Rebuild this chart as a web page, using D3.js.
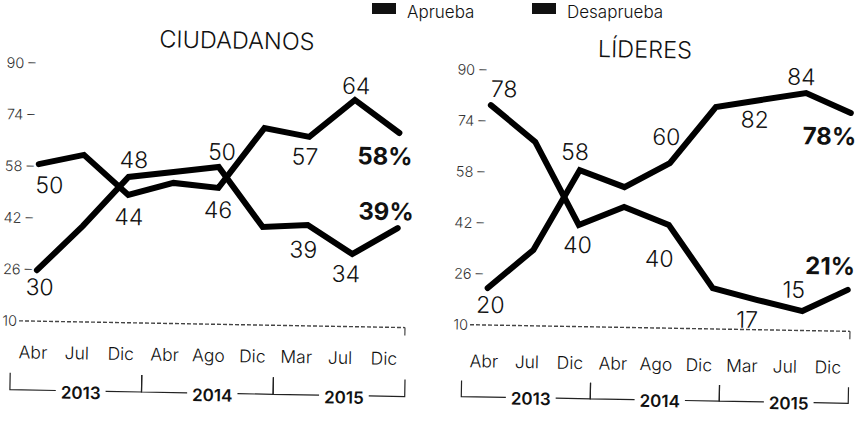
<!DOCTYPE html>
<html>
<head>
<meta charset="utf-8">
<script src="https://cdn.jsdelivr.net/npm/d3@7"></script>
<style>
  body { margin: 0; background: #fff; }
  svg { display: block; font-family: Inter, "Open Sans", sans-serif; }
</style>
</head>
<body>
<svg id="chart" width="859" height="423"></svg>
<script>

  // ---- data ----
  var months = ["Abr", "Jul", "Dic", "Abr", "Ago", "Dic", "Mar", "Jul", "Dic"];
  var years = ["2013", "2014", "2015"];
  var yTicks = [10, 26, 42, 58, 74, 90];
  var legendNames = ["Aprueba", "Desaprueba"];

  // CIUDADANOS: the two lines as drawn (they swap places twice)
  var ciudLineA = [25.8, 39.7, 55.2, 57.0, 58.8, 40.4, 41.3, 32.5, 40.8];
  var ciudLineB = [58.7, 61.8, 49.6, 53.6, 52.3, 71.1, 68.6, 80.3, 70.3];
  var ciudLabelsA = ["30", "", "48", "", "50", "", "39", "34", "39%"];
  var ciudLabelsB = ["50", "", "44", "", "46", "", "57", "64", "58%"];

  // LÍDERES
  var lidLineA = [21.6, 33.8, 59.1, 54.0, 61.8, 79.6, 82.1, 84.5, 78.5];
  var lidLineB = [79.0, 67.7, 41.9, 47.8, 42.4, 22.8, 19.3, 16.1, 23.0];
  var lidLabelsA = ["20", "", "58", "", "60", "", "82", "84", "78%"];
  var lidLabelsB = ["78", "", "40", "", "40", "", "17", "15", "21%"];

  // ---- layout ----
  var panels = [
    {
      title: "CIUDADANOS", titleX: 234, titleY: 52,
      xRange: [38, 398], monthRange: [35, 386], yRange: [328, 70],
      axisX: 33, baseX: [21, 407],
      monthY: 366, bracketTop: 380, bracketY: 397, yearY: 405,
      lines: [ciudLineA, ciudLineB],
      labels: [ciudLabelsA, ciudLabelsB],
      offsets: [
        [[3, 25], null, [5, -9], null, [3, -7], null, [-4, 33], [-6, 28], [-12, -8]],
        [[11, 29], null, [1, 30], null, [0, 30], null, [-4, 28], [1, -6], [-14, 32]]
      ]
    },
    {
      title: "LÍDERES", titleX: 642, titleY: 54,
      xRange: [489, 849], monthRange: [486, 830], yRange: [324, 69],
      axisX: 484, baseX: [472, 852],
      monthY: 367, bracketTop: 380, bracketY: 396, yearY: 403,
      lines: [lidLineA, lidLineB],
      labels: [lidLabelsA, lidLabelsB],
      offsets: [
        [[3, 25], null, [-5, -10], null, [-4, -18], null, [-6, 28], [-5, -8], [-21, 32]],
        [[13, -8], null, [-1, 28], null, [-9, 42], null, [-10, 28], [-9, -13], [-18, -15]]
      ]
    }
  ];

  var svg = d3.select("#chart");

  // legend (kept level and inside the top edge)
  var legend = svg.append("g").attr("class", "legend");
  var legendX = [372, 532];
  legendNames.forEach(function(name, i) {
    legend.append("rect")
      .attr("x", legendX[i]).attr("y", 3)
      .attr("width", 24).attr("height", 11)
      .attr("fill", "#111");
    legend.append("text")
      .attr("x", legendX[i] + 35).attr("y", 18)
      .attr("font-size", 17)
      .attr("font-weight", 300)
      .attr("fill", "#111")
      .text(name);
  });

  // the scanned page is tilted a little clockwise
  var root = svg.append("g").attr("transform", "rotate(1, 430, 212)");

  panels.forEach(function(p) {

    var g = root.append("g");

    var idx = d3.range(months.length);
    var x = d3.scalePoint().domain(idx).range(p.xRange);
    var xm = d3.scalePoint().domain(idx).range(p.monthRange);
    var y = d3.scaleLinear().domain([10, 90]).range(p.yRange);
    var step = xm.step();

    // title
    g.append("text")
      .attr("x", p.titleX).attr("y", p.titleY)
      .attr("text-anchor", "middle")
      .attr("font-size", 23.5)
      .attr("font-weight", 300)
      .attr("fill", "#111")
      .text(p.title);

    // y axis: labels with a little dash (the bottom one sits before the baseline)
    var yAxis = d3.axisLeft(y)
      .tickValues(yTicks)
      .tickSize(0)
      .tickPadding(0)
      .tickFormat(function(d) { return d === 10 ? d : d + " \u2013"; });

    var ya = g.append("g")
      .attr("transform", "translate(" + p.axisX + ",0)")
      .call(yAxis);
    ya.select(".domain").remove();
    ya.selectAll("text")
      .attr("font-size", 14.5)
      .attr("font-weight", 300)
      .attr("font-family", "Inter, sans-serif")
      .attr("fill", "#333")
      .attr("dx", function(d) { return d === 10 ? -14 : 0; });

    // dotted baseline
    g.append("line")
      .attr("x1", p.baseX[0]).attr("x2", p.baseX[1])
      .attr("y1", y(10)).attr("y2", y(10))
      .attr("stroke", "#444")
      .attr("stroke-width", 1.4)
      .attr("stroke-dasharray", "4,2");
    g.append("line")
      .attr("x1", p.baseX[1]).attr("x2", p.baseX[1])
      .attr("y1", y(10)).attr("y2", y(10) + 8)
      .attr("stroke", "#444")
      .attr("stroke-width", 1.2);

    // month labels
    var xAxis = d3.axisBottom(xm)
      .tickSize(0)
      .tickPadding(0)
      .tickFormat(function(i) { return months[i]; });

    var xa = g.append("g")
      .attr("transform", "translate(0," + (p.monthY - 13) + ")")
      .call(xAxis);
    xa.select(".domain").remove();
    xa.selectAll("text")
      .attr("dy", "0.71em")
      .attr("font-size", 17.5)
      .attr("font-weight", 300)
      .attr("font-family", "Inter, sans-serif")
      .attr("fill", "#111");

    // year brackets
    years.forEach(function(yr, k) {
      var x0 = xm(k * 3) - step / 2,
          x1 = xm(k * 3 + 2) + step / 2,
          cx = xm(k * 3 + 1) + 5;

      var t = g.append("text")
        .attr("x", cx).attr("y", p.yearY)
        .attr("text-anchor", "middle")
        .attr("font-size", 17)
        .attr("font-weight", 600)
        .attr("fill", "#111")
        .text(yr);

      var w = t.node().getComputedTextLength();

      g.append("path")
        .attr("d", "M" + x0 + "," + p.bracketTop + "V" + p.bracketY + "H" + (cx - w / 2 - 5))
        .attr("fill", "none").attr("stroke", "#222").attr("stroke-width", 1.2);
      g.append("path")
        .attr("d", "M" + (cx + w / 2 + 5) + "," + p.bracketY + "H" + x1 + "V" + p.bracketTop)
        .attr("fill", "none").attr("stroke", "#222").attr("stroke-width", 1.2);
    });

    // lines
    var line = d3.line()
      .x(function(d, i) { return x(i); })
      .y(function(d) { return y(d); });

    g.selectAll(".serie")
      .data(p.lines)
      .enter()
      .append("path")
      .attr("class", "serie")
      .attr("d", line)
      .attr("fill", "none")
      .attr("stroke", "#000")
      .attr("stroke-width", 6)
      .attr("stroke-linejoin", "miter")
      .attr("stroke-linecap", "round");

    // value labels
    p.lines.forEach(function(values, s) {
      values.forEach(function(v, i) {
        var txt = p.labels[s][i];
        if (!txt) return;
        var off = p.offsets[s][i];
        var big = txt.indexOf("%") >= 0;
        g.append("text")
          .attr("x", x(i) + off[0])
          .attr("y", y(v) + off[1])
          .attr("text-anchor", "middle")
          .attr("font-size", big ? 24 : 23)
          .attr("font-weight", big ? 700 : 300)
          .attr("fill", "#111")
          .text(txt);
      });
    });

  });

</script>
</body>
</html>
